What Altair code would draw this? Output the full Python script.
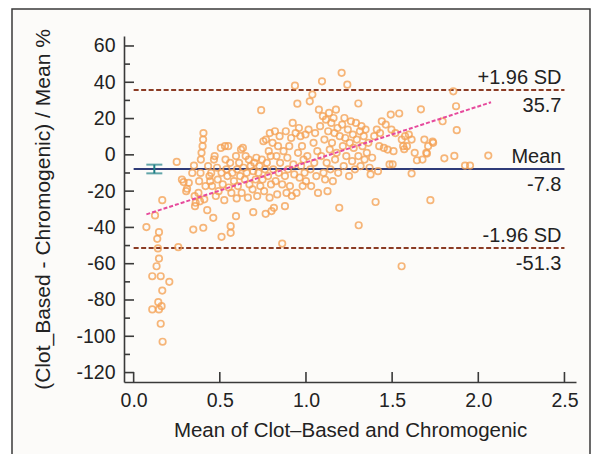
import altair as alt
import pandas as pd

# ---- data (x = mean of methods, y = % difference) ----
mean_x = [
    0.074, 0.124, 0.166, 0.137, 0.147, 0.141, 0.147, 0.133, 0.108, 0.157,
    0.207, 0.166, 0.143, 0.162, 0.108, 0.147, 0.157, 0.168, 0.259, 0.250,
    0.280, 0.290, 0.310, 0.305, 0.320, 0.346, 0.340, 0.350, 0.354, 0.360,
    0.356, 0.376, 0.380, 0.388, 0.390, 0.394, 0.400, 0.403, 0.405, 0.404,
    0.410, 0.417, 0.427, 0.385,
    0.432, 0.440, 0.444, 0.450, 0.455, 0.462, 0.466, 0.470, 0.477, 0.484,
    0.488, 0.493, 0.510, 0.506, 0.510, 0.517, 0.526, 0.530, 0.533, 0.538,
    0.544, 0.549, 0.551, 0.563, 0.563, 0.560, 0.567, 0.573, 0.598, 0.582,
    0.594, 0.594, 0.600,
    0.605, 0.612, 0.618, 0.623, 0.627, 0.634, 0.638, 0.645, 0.650, 0.656,
    0.663, 0.668, 0.672, 0.679, 0.694, 0.690, 0.694, 0.700, 0.708, 0.712,
    0.717, 0.724, 0.730, 0.735, 0.740, 0.744, 0.748, 0.753, 0.757, 0.762,
    0.766, 0.768, 0.773, 0.780, 0.784, 0.789, 0.790, 0.795, 0.797, 0.800,
    0.806, 0.810, 0.814, 0.820, 0.824, 0.829, 0.833, 0.838, 0.842, 0.847,
    0.850, 0.862, 0.862, 0.870, 0.878, 0.878, 0.883, 0.887, 0.892, 0.896,
    0.903, 0.907, 0.914, 0.918, 0.923, 0.927, 0.932, 0.936, 0.940, 0.945,
    0.950, 0.954, 0.959, 0.963, 0.968, 0.972, 0.977, 0.981, 0.986, 0.992,
    0.997, 1.000,
    1.008, 1.015, 1.022, 1.026, 1.030, 1.037, 1.044, 1.048, 1.053, 1.060,
    1.066, 1.070, 1.075, 1.082, 1.089, 1.093, 1.098, 1.102, 1.107, 1.111,
    1.116, 1.120, 1.125, 1.129, 1.134, 1.138, 1.142, 1.147, 1.151, 1.156,
    1.160, 1.165, 1.169, 1.174, 1.178, 1.183, 1.187, 1.193, 1.196,
    1.207, 1.210, 1.214, 1.219, 1.223, 1.228, 1.234, 1.240, 1.243, 1.250,
    1.254, 1.261, 1.268, 1.272, 1.277, 1.284, 1.290, 1.295, 1.304, 1.304,
    1.306, 1.313, 1.317, 1.322, 1.328, 1.335, 1.340, 1.346, 1.353, 1.362,
    1.369, 1.375, 1.384, 1.396, 1.404,
    1.411, 1.418, 1.425, 1.430, 1.440, 1.452, 1.463, 1.474, 1.485, 1.492,
    1.496, 1.508, 1.519, 1.541, 1.556, 1.555, 1.564, 1.575, 1.586, 1.597,
    1.503, 1.570,
    1.613, 1.613, 1.631, 1.644, 1.667, 1.676, 1.687, 1.698, 1.709, 1.722,
    1.738, 1.793, 1.803, 1.855, 1.861, 1.871, 1.875, 1.923, 1.952, 2.058,
    1.702, 1.735,
]
pct_diff = [
    -39.8, -33.4, -25.0, -46.3, -42.6, -51.6, -57.2, -61.4, -66.9, -66.9,
    -70.0, -74.8, -81.2, -83.4, -85.2, -85.2, -93.1, -103.0, -50.9, -3.9,
    -13.6, -15.0, -18.7, -20.0, -15.4, -41.2, -10.0, -5.9, -22.7, -26.4,
    -28.3, -21.0, -14.5, -10.0, -2.6, 1.1, 4.8, 8.4, 12.0, -40.2,
    -24.5, -17.2, -30.5, -25.6,
    -6.2, -11.7, -14.5, -10.0, -17.2, -34.7, -2.6, -0.7, -22.7, -7.1,
    -13.6, -20.0, -45.2, 3.8, -9.9, -16.3, -25.0, 4.8, -2.6, -8.0,
    -11.7, 4.8, -18.0, -39.3, -43.0, -4.4, -21.0, -10.0, -24.0, -14.5,
    -33.8, -0.7, -8.0,
    -17.2, -4.4, -11.7, 2.9, -21.0, 3.8, -7.1, -13.6, -0.7, -9.9,
    -23.6, -2.6, -16.3, -6.2, -31.6, -19.0, -9.0, -4.4, -13.6, -1.6,
    -22.7, -9.9, -6.2, -17.2, 24.6, -2.6, -13.6, 7.5, -20.0, -8.0,
    -32.5, 8.4, -4.4, -11.7, 2.0, -23.6, 12.0, -0.7, -16.3, -31.0,
    6.6, -8.0, -29.2, 13.0, -14.5, -0.7, -21.8, 4.8, -9.9, 10.3,
    -4.4, -48.9, -16.3, 2.0, -28.3, -11.7, 13.0, -21.0, -1.6, -8.0,
    4.8, -17.2, 9.3, -22.7, 17.6, -5.3, -10.8, 38.1, 12.0, -21.0,
    28.2, 1.1, 14.8, -12.6, 10.3, -6.2, 4.8, -17.2, -2.6, -9.9,
    11.2, -14.5,
    -0.7, 13.9, 29.5, -8.0, -17.2, 33.2, 6.6, -4.4, 12.0, -11.7,
    2.0, -21.0, 24.9, 15.8, -0.7, 40.5, 21.3, -9.9, 8.4, -13.6,
    19.4, -4.4, -20.0, 13.0, 23.1, 2.9, -8.0, 17.6, 6.6, -14.5,
    20.3, 12.0, -2.6, 24.9, 1.1, 14.8, -9.9, -29.2, 10.3,
    45.2, 16.7, 4.8, -6.2, 20.3, 9.3, -0.7, 38.7, 13.9, -11.7,
    6.6, 18.5, -3.5, 11.2, 3.8, -8.0, 17.6, 8.4, 28.3, -0.7,
    -38.8, 13.0, -6.2, 15.8, 4.8, 10.3, -2.6, 13.9, 1.1, 6.6,
    -7.1, -10.8, -1.6, 10.3, -26.0,
    13.9, -9.0, 4.8, 12.0, 18.5, 3.8, 16.7, 2.9, -5.3, 22.2,
    13.9, 2.0, 12.0, 22.8, 8.4, -61.4, 4.8, 10.3, 4.8, 11.2,
    -5.2, 3.1,
    -10.3, 8.4, 1.1, -3.0, 25.1, -2.6, 8.4, 1.1, 4.8, -25.0,
    6.6, 18.5, -1.9, 35.0, -0.6, 26.8, 13.6, -5.9, -5.9, -0.4,
    0.7, 7.3,
]
assert len(mean_x) == len(pct_diff)

line_values = [35.7, -7.8, -51.3]
line_kinds = ["sd", "mean", "sd"]
line_start = [0.0, 0.0, 0.0]
line_end = [2.5, 2.5, 2.5]
label_above = ["+1.96 SD", "Mean", "-1.96 SD"]
label_below = ["35.7", "-7.8", "-51.3"]

ci_x = [0.12]
ci_low = [-10.2]
ci_high = [-5.4]

reg_x = [0.074, 2.074]
reg_y = [-32.8, 29.0]

x_tick_values = [0.0, 0.5, 1.0, 1.5, 2.0, 2.5]
y_major_values = [-120, -100, -80, -60, -40, -20, 0, 20, 40, 60]
y_minor_values = [-110, -90, -70, -50, -30, -10, 10, 30, 50]

W, H = 452, 346
FONT = "Liberation Sans"
INK = "#222222"
AXIS = "#3a3a3a"

xs = alt.Scale(domain=[-0.056, 2.567], nice=False, zero=False)
ys = alt.Scale(domain=[-125.2, 65.5], nice=False, zero=False)

x_axis = alt.Axis(
    values=x_tick_values, format=".1f", ticks=False, tickSize=0, grid=False,
    zindex=2,
    domainColor=AXIS, domainWidth=1.6, labelFontSize=19.5, labelColor=INK,
    labelFont=FONT, labelPadding=18, labelBaseline="middle",
    title="Mean of Clot\u2013Based and Chromogenic", titleFont=FONT,
    titleFontSize=20.5, titleFontWeight="normal", titleColor=INK,
    titleX=226, titleY=48, titleBaseline="middle", titleAlign="center")
y_axis = alt.Axis(
    values=y_major_values, ticks=False, tickSize=0, grid=False,
    zindex=2, labelExpr="'' + datum.value",
    domainColor=AXIS, domainWidth=1.6, labelFontSize=19.5, labelColor=INK,
    labelFont=FONT, labelPadding=9,
    title="(Clot_Based - Chromogenic) / Mean %", titleFont=FONT,
    titleFontSize=21, titleFontWeight="normal", titleColor=INK,
    titleX=-81, titleY=173, titleAngle=270, titleBaseline="middle",
    titleAlign="center")


def X(field):
    return alt.X(field, scale=xs, axis=x_axis)


def Y(field):
    return alt.Y(field, scale=ys, axis=y_axis)


pts = pd.DataFrame({"x": mean_x, "y": pct_diff})
lines = pd.DataFrame({"x": line_start, "x2": line_end, "y": line_values,
                      "kind": line_kinds, "above": label_above,
                      "below": label_below})
ci = pd.DataFrame({"x": ci_x, "lo": ci_low, "hi": ci_high})
reg = pd.DataFrame({"x": reg_x, "y": reg_y})

frame = alt.Chart(pd.DataFrame({"a": [0]})).mark_rect(
    fill="#fcfbf9", stroke="#3a3a3a", strokeWidth=1.5
).encode(x=alt.value(-112), x2=alt.value(466), y=alt.value(-27), y2=alt.value(440))

points = alt.Chart(pts).mark_point(
    shape="circle", filled=False, size=42, strokeWidth=1.7,
    color="#f5a255", opacity=0.78
).encode(x=X("x:Q"), y=Y("y:Q"))

sd_lines = alt.Chart(lines).transform_filter(alt.datum.kind == "sd").mark_rule(
    color="#8b3b24", strokeWidth=2, strokeDash=[5, 2.5]
).encode(x=X("x:Q"), x2="x2:Q", y=Y("y:Q"))

mean_line = alt.Chart(lines).transform_filter(alt.datum.kind == "mean").mark_rule(
    color="#2f3b78", strokeWidth=2
).encode(x=X("x:Q"), x2="x2:Q", y=Y("y:Q"))

reg_line = alt.Chart(reg).mark_line(
    color="#e64a9c", strokeWidth=2, strokeDash=[4, 2]
).encode(x=X("x:Q"), y=Y("y:Q"))

ci_rule = alt.Chart(ci).mark_rule(color="#1f7f86", strokeWidth=2).encode(
    x=X("x:Q"), y=Y("lo:Q"), y2="hi:Q")
ci_cap_lo = alt.Chart(ci).mark_tick(color="#1f7f86", orient="horizontal",
                                    size=16, thickness=2).encode(
    x=X("x:Q"), y=Y("lo:Q"))
ci_cap_hi = alt.Chart(ci).mark_tick(color="#1f7f86", orient="horizontal",
                                    size=16, thickness=2).encode(
    x=X("x:Q"), y=Y("hi:Q"))

txt_above = alt.Chart(lines).mark_text(
    align="right", baseline="middle", dx=-3, dy=-12, fontSize=20, font=FONT, color=INK
).encode(x=X("x2:Q"), y=Y("y:Q"), text="above:N")
txt_below = alt.Chart(lines).mark_text(
    align="right", baseline="middle", dx=-3, dy=16, fontSize=20, font=FONT, color=INK
).encode(x=X("x2:Q"), y=Y("y:Q"), text="below:N")

ytm = alt.Chart(pd.DataFrame({"v": y_major_values})).mark_rule(
    color=AXIS, strokeWidth=1.6).encode(
    y=Y("v:Q"), x=alt.value(0), x2=alt.value(10))
ytn = alt.Chart(pd.DataFrame({"v": y_minor_values})).mark_rule(
    color=AXIS, strokeWidth=1.6).encode(
    y=Y("v:Q"), x=alt.value(0), x2=alt.value(6))
xtm = alt.Chart(pd.DataFrame({"u": x_tick_values})).mark_rule(
    color=AXIS, strokeWidth=1.6).encode(
    x=X("u:Q"), y=alt.value(H), y2=alt.value(H - 10))

chart = alt.layer(
    frame, sd_lines, mean_line, points, reg_line, ci_rule, ci_cap_lo, ci_cap_hi,
    txt_above, txt_below, ytm, ytn, xtm
).properties(
    width=W, height=H,
    autosize=alt.AutoSizeParams(type="none"),
    padding={"left": 116, "top": 28, "right": 17, "bottom": 72},
    background="#ffffff",
).configure(font=FONT).configure_view(stroke=None)

chart.save("out.html", embed_options={"renderer": "svg", "actions": False})
